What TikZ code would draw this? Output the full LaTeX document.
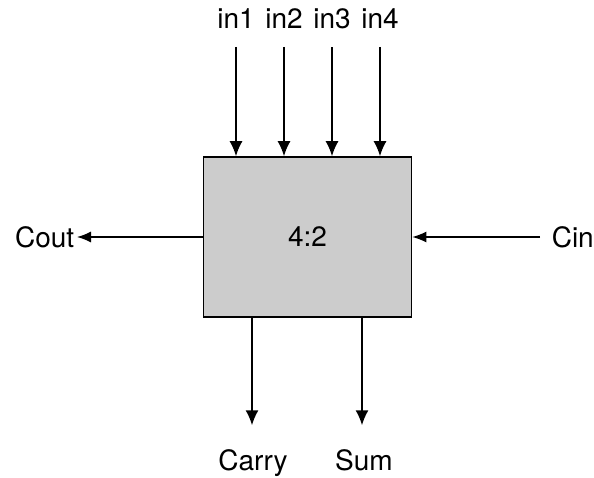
\documentclass[tikz,border=0pt]{standalone}
\usepackage{fontspec}
\setmainfont{TeX Gyre Heros}
\usetikzlibrary{arrows.meta}

\begin{document}
\begin{tikzpicture}[x=1pt, y=-1pt, line width=1.6pt,
	>={Latex[length=15pt,width=13pt]},
	lbl/.style={inner sep=0pt, font=\fontsize{28}{32}\selectfont}]
	\useasboundingbox (0,0) rectangle (594,477);
	\node[draw, fill=black!20, minimum width=208pt, minimum height=160pt, lbl] (cmp) at (307.5,237) {4:2};
	\foreach \x/\n in {236/1,284/2,332/3,380/4} {\node[lbl, anchor=base] (in\n) at (\x,28) {in\n}; \draw[->, shorten <=18pt] (in\n.south) -- (in\n |- cmp.north);}
	\node[lbl, anchor=east] (cout) at (75,237) {Cout};
	\node[lbl, anchor=west] (cin) at (551,237) {Cin};
	\draw[->, line width=1.3pt, >={Latex[length=14pt,width=11pt]}, shorten >=2pt] (cmp.west) -- (cout.east);
	\draw[->, line width=1.3pt, >={Latex[length=14pt,width=11pt]}, shorten <=11pt] (cin.west) -- (cmp.east);
	\node[lbl, anchor=base] (carry) at (253,470) {Carry};
	\node[lbl, anchor=base] (sum) at (364,470) {Sum};
	\draw[->, shorten >=23pt] (cmp.south -| 252,0) -- (252,0 |- carry.north);
	\draw[->, shorten >=23pt] (cmp.south -| 362,0) -- (362,0 |- sum.north);
\end{tikzpicture}
\end{document}
